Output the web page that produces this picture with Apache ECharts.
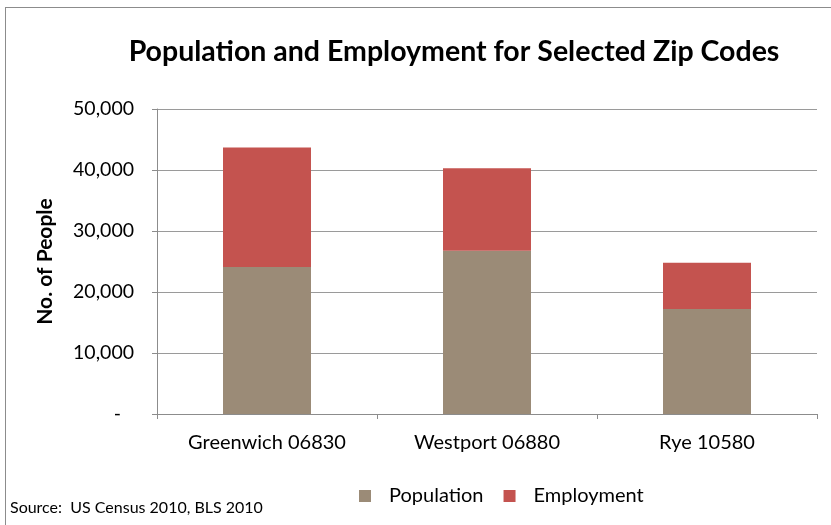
<!DOCTYPE html>
<html>
<head>
<meta charset="utf-8">
<script src="https://cdn.jsdelivr.net/npm/echarts@6/dist/echarts.min.js"></script>
<style>
  html, body { margin: 0; padding: 0; background: #fff; }
  #chart { width: 831px; height: 525px; }
</style>
</head>
<body>
<div id="chart"></div>
<script>
// Zip code areas
const categories = ['Greenwich 06830', 'Westport 06880', 'Rye 10580'];
// Resident population per zip code
const population = [24100, 26750, 17200];
// Jobs located in each zip code
const employment = [19600, 13550, 7600];
// Value axis ticks
const yTicks = [0, 10000, 20000, 30000, 40000, 50000];

const FONT = 'Lato, "Open Sans", sans-serif';

const chart = echarts.init(document.getElementById('chart'), null, { renderer: 'canvas' });

chart.setOption({
  backgroundColor: '#ffffff',
  animation: false,
  title: {
    text: 'Population and Employment for Selected Zip Codes',
    left: 449,
    top: 32,
    textAlign: 'center',
    textStyle: { fontFamily: FONT, fontWeight: 'bold', fontSize: 28.5, color: '#000' }
  },
  legend: {
    data: ['Population', 'Employment'],
    left: 354,
    top: 481,
    itemWidth: 12,
    itemHeight: 12,
    itemGap: 20,
    icon: 'rect',
    textStyle: { fontFamily: FONT, fontSize: 20, color: '#000', padding: [0, 0, 0, 13] }
  },
  grid: { left: 157, right: 14, top: 109, bottom: 111 },
  xAxis: {
    type: 'category',
    data: categories,
    axisLine: { lineStyle: { color: '#8c8c8c', width: 1 } },
    axisTick: { show: true, length: 5, alignWithLabel: false, lineStyle: { color: '#8c8c8c' } },
    axisLabel: { fontFamily: FONT, fontSize: 20, color: '#000', margin: 19 }
  },
  yAxis: {
    type: 'value',
    min: yTicks[0],
    max: yTicks[yTicks.length - 1],
    interval: yTicks[1] - yTicks[0],
    name: 'No. of People',
    nameLocation: 'middle',
    nameGap: 101,
    nameTextStyle: { fontFamily: FONT, fontWeight: 'bold', fontSize: 21, color: '#000' },
    axisLine: { show: true, lineStyle: { color: '#8c8c8c', width: 1 } },
    axisTick: { show: true, length: 5, lineStyle: { color: '#8c8c8c' } },
    splitLine: { lineStyle: { color: '#9a9a9a', width: 1 } },
    axisLabel: {
      fontFamily: FONT, fontSize: 19.5, color: '#000', margin: 23,
      formatter: v => v === 0 ? '{d|-}' : v.toLocaleString('en-US'),
      rich: { d: { fontFamily: FONT, fontSize: 19.5, color: '#000', padding: [0, 13, 0, 0] } }
    }
  },
  series: [
    {
      name: 'Population',
      type: 'bar',
      stack: 'total',
      barWidth: '40%',
      data: population,
      itemStyle: { color: '#9b8b77' }
    },
    {
      name: 'Employment',
      type: 'bar',
      stack: 'total',
      barWidth: '40%',
      data: employment,
      itemStyle: { color: '#c4534f' }
    }
  ],
  graphic: [
    { type: 'line', shape: { x1: 5, y1: 7.5, x2: 831, y2: 7.5 }, style: { stroke: '#8c8c8c', lineWidth: 1 } },
    { type: 'line', shape: { x1: 5.5, y1: 7, x2: 5.5, y2: 525 }, style: { stroke: '#8c8c8c', lineWidth: 1 } },
    {
      type: 'text', left: 10, top: 500,
      style: { text: 'Source:  US Census 2010, BLS 2010', font: '16px ' + FONT, fill: '#000' }
    }
  ]
});
</script>
</body>
</html>
